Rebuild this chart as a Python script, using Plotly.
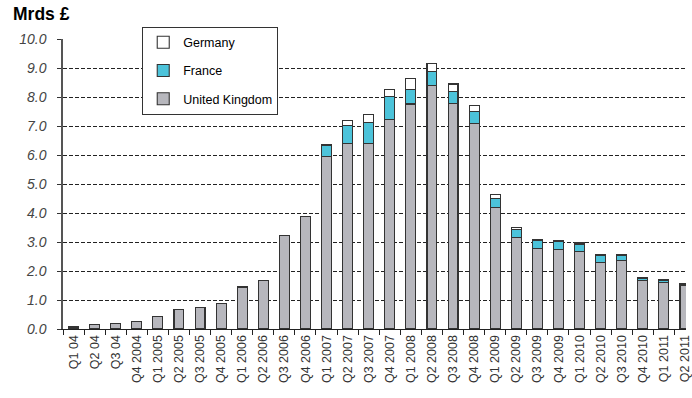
import plotly.graph_objects as go

quarters = [
    "Q1 04", "Q2 04", "Q3 04", "Q4 2004",
    "Q1 2005", "Q2 2005", "Q3 2005", "Q4 2005",
    "Q1 2006", "Q2 2006", "Q3 2006", "Q4 2006",
    "Q1 2007", "Q2 2007", "Q3 2007", "Q4 2007",
    "Q1 2008", "Q2 2008", "Q3 2008", "Q4 2008",
    "Q1 2009", "Q2 2009", "Q3 2009", "Q4 2009",
    "Q1 2010", "Q2 2010", "Q3 2010", "Q4 2010",
    "Q1 2011", "Q2 2011",
]

united_kingdom = [
    0.07, 0.14, 0.20, 0.27,
    0.43, 0.68, 0.75, 0.87,
    1.45, 1.66, 3.22, 3.87,
    5.96, 6.40, 6.41, 7.21,
    7.76, 8.41, 7.79, 7.08,
    4.19, 3.17, 2.79, 2.73,
    2.67, 2.29, 2.36, 1.66,
    1.59, 1.50,
]

france = [
    None, None, None, None,
    None, None, None, None,
    None, None, None, None,
    0.38, 0.62, 0.71, 0.81,
    0.49, 0.46, 0.41, 0.41,
    0.32, 0.27, 0.28, 0.29,
    0.26, 0.25, 0.18, 0.09,
    0.10, 0.03,
]

germany = [
    None, None, None, None,
    None, None, None, None,
    None, None, None, None,
    0.02, 0.18, 0.27, 0.25,
    0.40, 0.30, 0.25, 0.22,
    0.14, 0.06, 0.03, 0.02,
    0.04, 0.02, 0.02, 0.02,
    0.02, 0.04,
]

y_ticks = [0, 1, 2, 3, 4, 5, 6, 7, 8, 9, 10]
y_tick_labels = [f"{v:.1f}" for v in y_ticks]

FONT = "Arial, Liberation Sans, sans-serif"
EDGE = dict(color="#333333", width=1.1)

# plot area in pixels
PLOT_L, PLOT_T, PLOT_B = 63, 39.3, 328.7
PLOT_W, PLOT_H = 692 - PLOT_L, PLOT_B - PLOT_T

fig = go.Figure()
series = [
    ("United Kingdom", united_kingdom, "#B7B7BD", 3),
    ("France", france, "#4CC3DA", 2),
    ("Germany", germany, "#FFFFFF", 1),
]
for name, values, colour, rank in series:
    fig.add_trace(go.Bar(
        x=quarters, y=values, name=name, legendgroup=name, legendrank=rank,
        marker=dict(color=colour, line=EDGE),
        width=0.47,
    ))

fig.update_layout(
    barmode="stack",
    width=692, height=398,
    margin=dict(l=PLOT_L, r=0, t=PLOT_T, b=398 - PLOT_B),
    paper_bgcolor="white", plot_bgcolor="white",
    font=dict(family=FONT, size=12.5, color="#000"),
    showlegend=True,
    legend=dict(
        x=(143 - PLOT_L) / PLOT_W, y=(PLOT_B - 27) / PLOT_H,
        xanchor="left", yanchor="top",
        traceorder="grouped", tracegroupgap=9,
        bgcolor="white", bordercolor="#333", borderwidth=1,
        font=dict(family=FONT, size=12.5, color="#000"),
        itemwidth=30,
    ),
    annotations=[dict(
        text="<b>Mrds £</b>",
        x=(10 - PLOT_L) / PLOT_W, y=(PLOT_B - 14) / PLOT_H,
        xref="paper", yref="paper", xanchor="left", yanchor="middle",
        showarrow=False, font=dict(family=FONT, size=17.5, color="#000"),
    )],
)

fig.update_xaxes(
    type="category",
    range=[-0.5, 29.05],
    showline=True, linecolor="#222", linewidth=1.2,
    ticks="outside", tickson="boundaries", ticklen=5, tickcolor="#222", tickwidth=1.2,
    tickangle=-90,
    tickfont=dict(family=FONT, size=12.5, color="#333"),
    showgrid=False,
)

fig.update_yaxes(
    range=[0, 10.0],
    tickvals=y_ticks, ticktext=y_tick_labels,
    showline=True, linecolor="#555", linewidth=1.5,
    ticks="outside", ticklen=4, tickcolor="#333",
    ticklabelstandoff=8,
    tickfont=dict(family=FONT, size=14, color="#444", style="italic"),
    showgrid=True, gridcolor="#222", gridwidth=1, griddash="4px,2px",
    zeroline=False,
)

fig.write_html("out.html")
